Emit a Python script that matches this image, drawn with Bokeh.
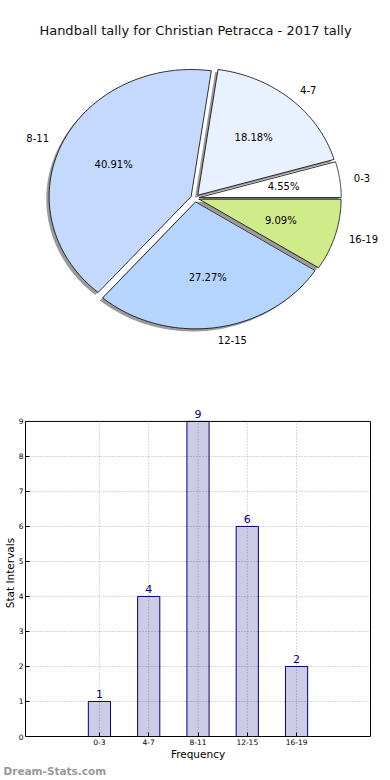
import numpy as np
from bokeh.plotting import figure
from bokeh.models import (Range1d, FactorRange, ColumnDataSource, Label, Span, Title,
                          LinearAxis, FixedTicker)
from bokeh.core.properties import value
from bokeh.embed import file_html
from bokeh.resources import INLINE

# ---------------- data ----------------
categories = ["0-3", "4-7", "8-11", "12-15", "16-19"]
counts = [1, 4, 9, 6, 2]
pie_colors = ["#ffffff", "#e9f1fe", "#c5d9fe", "#b5d5ff", "#d0eb8a"]
title_text = "Handball tally for Christian Petracca - 2017 tally"
y_ticks = [0, 1, 2, 3, 4, 5, 6, 7, 8, 9]

FONT = "DejaVu Sans"
W = 382
H_PIE = 388
H_BAR = 388

# ---------------- pie ----------------
RX, RY = 142.0, 127.0          # pixel radii (elliptical pie)
CX, CY = 194.5, 197.6          # pixel centre inside the pie figure
EXPLODE = 0.03
SHADOW = (-0.02, -0.02)

pie = figure(width=W, height=H_PIE, output_backend="svg", toolbar_location=None,
             x_range=Range1d(-CX / RX, (W - CX) / RX),
             y_range=Range1d(-(H_PIE - CY) / RY, CY / RY),
             x_axis_location=None, y_axis_location=None,
             min_border=0, outline_line_color=None)
pie.grid.visible = False

total = float(sum(counts))
fracs = np.array(counts) / total
edges = np.concatenate([[0.0], np.cumsum(fracs)]) * 2 * np.pi

xs_sh, ys_sh, xs, ys = [], [], [], []
pct_x, pct_y, pct_t = [], [], []
lab_x, lab_y, lab_t, lab_align = [], [], [], []
for i, cat in enumerate(categories):
    a0, a1 = edges[i], edges[i + 1]
    mid = 0.5 * (a0 + a1)
    ox, oy = EXPLODE * np.cos(mid), EXPLODE * np.sin(mid)
    t = np.linspace(a0, a1, 80)
    px = np.concatenate([[ox], ox + np.cos(t), [ox]])
    py = np.concatenate([[oy], oy + np.sin(t), [oy]])
    xs.append(list(px)); ys.append(list(py))
    xs_sh.append(list(px + SHADOW[0])); ys_sh.append(list(py + SHADOW[1]))
    pct_x.append(ox + 0.6 * np.cos(mid)); pct_y.append(oy + 0.6 * np.sin(mid))
    pct_t.append("%.2f%%" % (100 * fracs[i]))
    lab_x.append(ox + 1.1 * np.cos(mid)); lab_y.append(oy + 1.1 * np.sin(mid))
    lab_t.append(cat)
    lab_align.append("left" if np.cos(mid) > 0 else "right")

pie.patches(xs=xs_sh, ys=ys_sh, fill_color="#7a7a7a", fill_alpha=0.75, line_color=None)
pie.patches(xs=xs, ys=ys, fill_color=pie_colors, line_color="black", line_width=0.8)
pie.text(x=pct_x, y=pct_y, text=pct_t, text_align="center", text_baseline="middle",
         text_font=value(FONT), text_font_size="10px", text_color="black")
pie.text(x=lab_x, y=lab_y, text=lab_t, text_align=lab_align, text_baseline="middle",
         text_font=value(FONT), text_font_size="10px", text_color="black")
pie.add_layout(Label(x=(195 - CX) / RX, y=(CY - 30) / RY, text=title_text,
                     text_align="center", text_baseline="middle",
                     text_font=FONT, text_font_size="13px", text_color="#111111"))

# ---------------- bar ----------------
TOP, BOTTOM, LEFT, RIGHT = 21, 38, 20, 12
FRAME_H = H_BAR - TOP - BOTTOM
YMAX = y_ticks[-1]
Y_TOP = YMAX * FRAME_H / (FRAME_H - 12.0)   # headroom for the value label above the frame line
bar = figure(width=W, height=H_BAR, output_backend="svg", toolbar_location=None,
             x_range=FactorRange(*categories, range_padding=1.0, range_padding_units="absolute"),
             y_range=Range1d(0, Y_TOP),
             min_border_top=TOP, min_border_right=RIGHT, min_border_bottom=BOTTOM,
             min_border_left=LEFT, outline_line_color=None)
src = ColumnDataSource(dict(cat=categories, cnt=counts, lbl=[str(c) for c in counts]))

bar.xgrid.visible = False
bar.ygrid.grid_line_color = "#b0b0b0"
bar.ygrid.grid_line_dash = "1 2"
bar.segment(x0=categories, y0=0, x1=categories, y1=YMAX, line_color="#b0b0b0",
            line_dash="1 2", line_width=1)

bar.vbar(x="cat", top="cnt", width=0.45, source=src, fill_color="navy", fill_alpha=0.2,
         line_color="navy", line_width=1)
bar.text(x="cat", y="cnt", text="lbl", source=src, y_offset=-3,
         text_align="center", text_baseline="bottom",
         text_font=value(FONT), text_font_size="11px", text_color="navy")

bar.add_layout(Span(location=YMAX, dimension="width", line_color="black", line_width=1))
bar.add_layout(LinearAxis(ticker=FixedTicker(ticks=[]), bounds=(0, YMAX),
                          major_tick_in=0, major_tick_out=0, minor_tick_line_color=None,
                          axis_line_color="black"), "right")

bar.yaxis[0].ticker = y_ticks
bar.yaxis[0].bounds = (0, YMAX)
for ax in (bar.xaxis[0], bar.yaxis[0]):
    ax.major_tick_in = 4
    ax.major_tick_out = 0
    ax.minor_tick_line_color = None
    ax.axis_line_color = "black"
    ax.major_label_text_font = FONT
    ax.major_label_text_font_size = "7.5px"
    ax.major_label_text_color = "black"
    ax.axis_label_text_font = FONT
    ax.axis_label_text_font_size = "10.5px"
    ax.axis_label_text_font_style = "normal"
    ax.axis_label_text_color = "black"
bar.xaxis[0].major_label_standoff = 2
bar.yaxis[0].major_label_standoff = 2
bar.xaxis[0].axis_label = "Frequency"
bar.yaxis[0].axis_label = "Stat Intervals"
bar.xaxis[0].axis_label_standoff = 0
bar.yaxis[0].axis_label_standoff = 0

bar.add_layout(Title(text="Dream-Stats.com", align="left", offset=-LEFT - 2, standoff=0,
                     text_font=FONT, text_font_size="10.5px", text_color="#999999",
                     text_font_style="bold"), "below")

open("out.html", "w").write(file_html([pie, bar], INLINE))
